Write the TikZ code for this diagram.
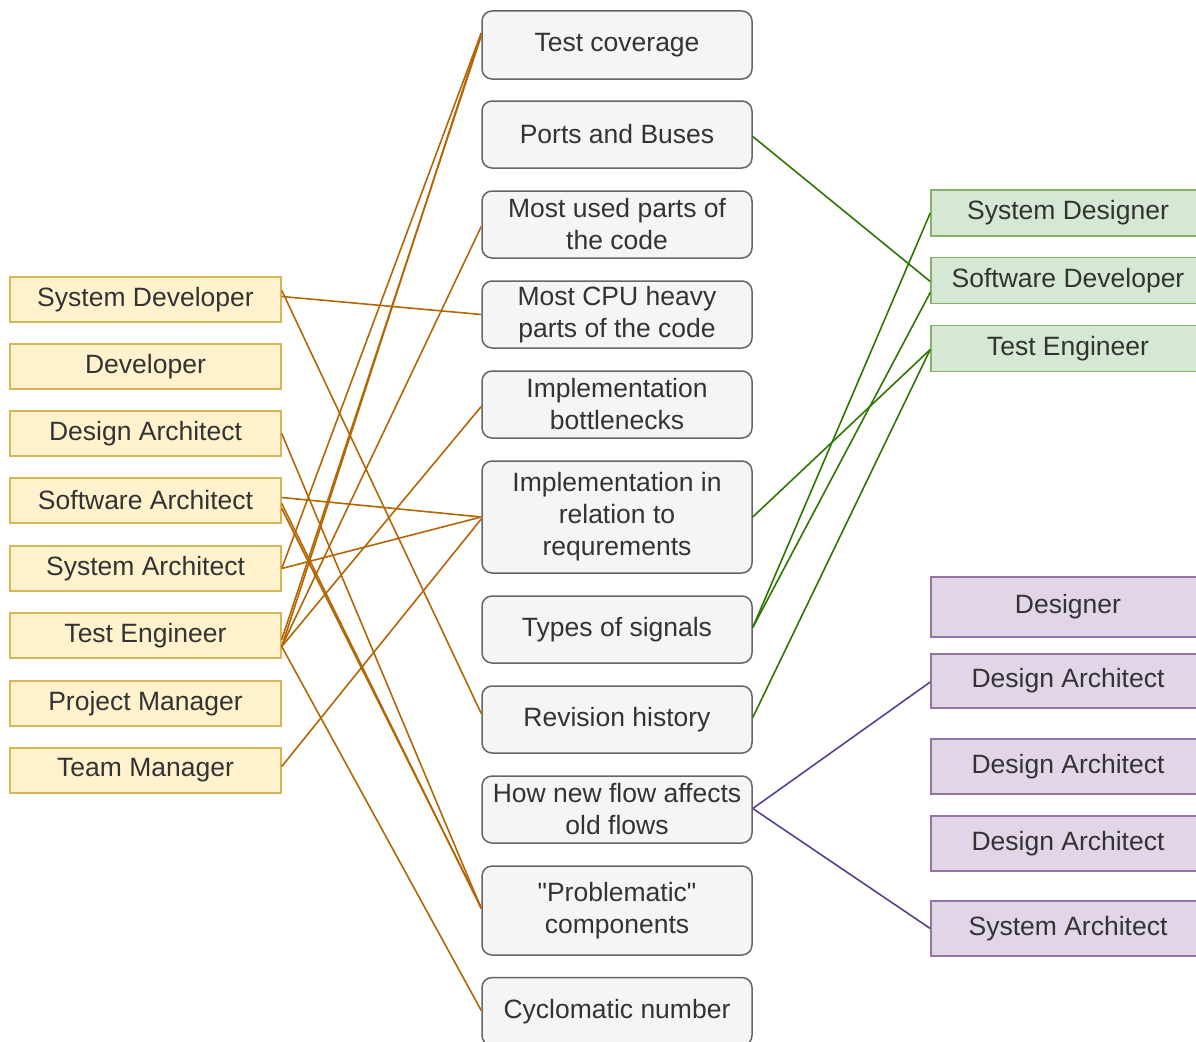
\documentclass[tikz,border=0pt]{standalone}
\usepackage{fontspec}
\setmainfont{Liberation Sans}[Ligatures=TeXOff]
\definecolor{yfill}{HTML}{FFF2CC}
\definecolor{ydraw}{HTML}{D6B656}
\definecolor{gfill}{HTML}{D5E8D4}
\definecolor{gdraw}{HTML}{82B366}
\definecolor{pfill}{HTML}{E1D5E7}
\definecolor{pdraw}{HTML}{9673A6}
\definecolor{mfill}{HTML}{F5F5F5}
\definecolor{mdraw}{HTML}{666666}
\definecolor{txt}{HTML}{333333}
\definecolor{oline}{HTML}{B46504}
\definecolor{gline}{HTML}{2D7600}
\definecolor{pline}{HTML}{5B3F8C}
\tikzset{
  base/.style={inner sep=0pt, align=center, text=txt,
    font=\fontsize{26.5}{32}\selectfont, line width=1.5pt},
  role/.style={base, rectangle, minimum width=271pt, minimum height=45pt,
    fill=yfill, draw=ydraw},
  topic/.style={base, rectangle, rounded corners=10pt, minimum width=270pt,
    fill=mfill, draw=mdraw},
  grole/.style={base, rectangle, minimum width=274pt, minimum height=46pt,
    fill=gfill, draw=gdraw},
  prole/.style={base, rectangle, minimum width=274pt,
    fill=pfill, draw=pdraw},
  oedge/.style={draw=oline, line width=1.6pt},
  gedge/.style={draw=gline, line width=1.6pt},
  pedge/.style={draw=pline, line width=1.6pt},
}
\begin{document}
\begin{tikzpicture}[x=1pt, y=-1pt]
\useasboundingbox (0,0) rectangle (1196,1041);

% roles on the left
\node[role] (sdev) at (145.5,299.5) {System Developer};
\node[role] (dev)  at (145.5,366.5) {Developer};
\node[role] (darch) at (145.5,433.5) {Design Architect};
\node[role] (swarch) at (145.5,500.5) {Software Architect};
\node[role] (sysarch) at (145.5,568.5) {System Architect};
\node[role] (teng) at (145.5,635.5) {Test Engineer};
\node[role] (pm) at (145.5,703.5) {Project Manager};
\node[role] (tm) at (145.5,770.5) {Team Manager};

% topics in the middle
\node[topic, minimum height=68pt] (tc) at (617,45) {Test coverage};
\node[topic, minimum height=67pt] (pb) at (617,134.5) {Ports and Buses};
\node[topic, minimum height=67pt] (mu) at (617,224.5) {Most used parts of\\the code};
\node[topic, minimum height=67pt] (cpu) at (617,314.5) {Most CPU heavy\\parts of the code};
\node[topic, minimum height=67pt] (ib) at (617,404.5) {Implementation\\bottlenecks};
\node[topic, minimum height=112pt] (ir) at (617,517) {Implementation in\\relation to\\requrements};
\node[topic, minimum height=67pt] (ts) at (617,629.5) {Types of signals};
\node[topic, minimum height=67pt] (rh) at (617,719.5) {Revision history};
\node[topic, minimum height=67pt] (nf) at (617,809.5) {How new flow affects\\old flows};
\node[topic, minimum height=89pt] (pc) at (617,910.5) {"Problematic"\\components};
\node[topic, minimum height=68pt] (cn) at (617,1011.5) {Cyclomatic number};

% roles on the right, green group
\node[grole] (gsd) at (1068,213) {System Designer};
\node[grole] (gswd) at (1068,280.5) {Software Developer};
\node[grole] (gte) at (1068,348.5) {Test Engineer};

% roles on the right, purple group
\node[prole, minimum height=60pt] (pdes) at (1068,607) {Designer};
\node[prole, minimum height=54pt] (pda1) at (1068,681) {Design Architect};
\node[prole, minimum height=55pt] (pda2) at (1068,766.5) {Design Architect};
\node[prole, minimum height=55pt] (pda3) at (1068,843.5) {Design Architect};
\node[prole, minimum height=55pt] (psa) at (1068,928.5) {System Architect};

% orange connectors
\draw[oedge] ([yshift=3pt]sdev.east) -- ([yshift=0pt]cpu.west);
\draw[oedge] ([yshift=9pt]sdev.east) -- ([yshift=6pt]rh.west);
\draw[oedge] (darch.east) -- ([yshift=2pt]pc.west);
\draw[oedge] ([yshift=3pt]swarch.east) -- (ir.west);
\draw[oedge] ([yshift=-3pt]swarch.east) -- ([yshift=2pt]pc.west);
\draw[oedge] ([yshift=-8pt]swarch.east) -- ([yshift=3pt]pc.west);
\draw[oedge] (sysarch.east) -- ([yshift=12pt]tc.west);
\draw[oedge] (sysarch.east) -- (ir.west);
\draw[oedge] ([yshift=-11pt]teng.east) -- ([yshift=12pt]tc.west);
\draw[oedge] ([yshift=-4pt]teng.east) -- ([yshift=9pt]tc.west);
\draw[oedge] ([yshift=-11pt]teng.east) -- ([yshift=-2pt]mu.west);
\draw[oedge] ([yshift=-11pt]teng.east) -- ([yshift=-2pt]ib.west);
\draw[oedge] ([yshift=-11pt]teng.east) -- ([yshift=1pt]cn.west);
\draw[oedge] ([yshift=4pt]tm.east) -- ([yshift=-2pt]ir.west);

% green connectors
\draw[gedge] ([yshift=-2pt]pb.east) -- ([yshift=-1pt]gswd.west);
\draw[gedge] (ir.east) -- ([yshift=-1pt]gte.west);
\draw[gedge] ([yshift=2pt]ts.east) -- (gsd.west);
\draw[gedge] ([yshift=2pt]ts.east) -- ([yshift=-12pt]gswd.west);
\draw[gedge] ([yshift=2pt]rh.east) -- ([yshift=-1pt]gte.west);

% purple connectors
\draw[pedge] ([yshift=1pt]nf.east) -- ([yshift=-1pt]pda1.west);
\draw[pedge] ([yshift=1pt]nf.east) -- (psa.west);
\end{tikzpicture}
\end{document}
